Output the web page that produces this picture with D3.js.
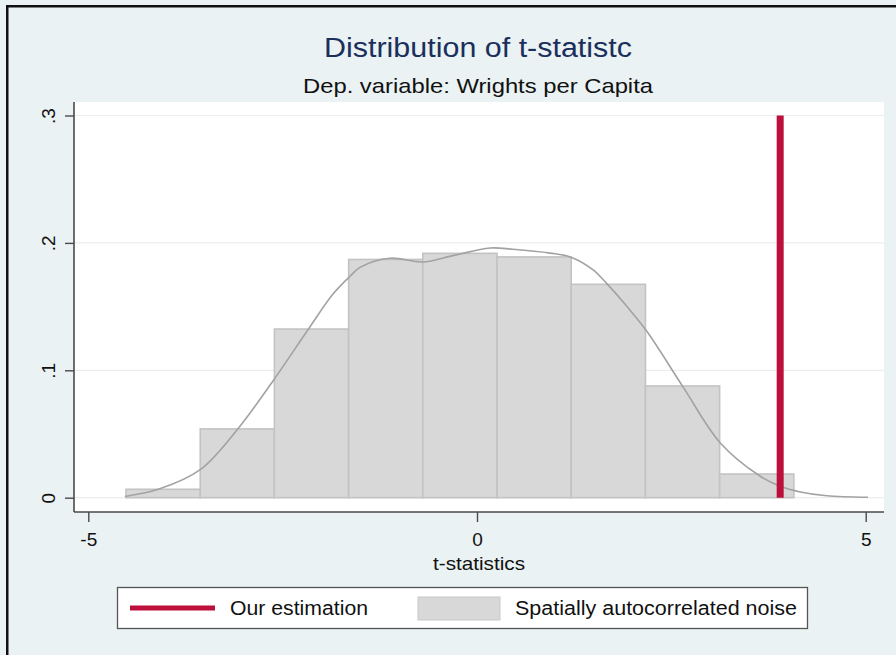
<!DOCTYPE html>
<html>
<head>
<meta charset="utf-8">
<script src="https://cdn.jsdelivr.net/npm/d3@7"></script>
<style>
  html, body { margin: 0; padding: 0; background: #eaf2f3; }
  svg { display: block; font-family: "Liberation Sans", Arial, Helvetica, sans-serif; }
</style>
</head>
<body>
<svg id="chart" width="896" height="655"></svg>
<script>
// Histogram of simulated t-statistics (density scale)
const binEdges = [-4.515, -3.56, -2.606, -1.651, -0.697, 0.258, 1.212, 2.167, 3.121, 4.076];
const binDensity = [0.0066, 0.054, 0.1324, 0.187, 0.1918, 0.189, 0.1675, 0.0877, 0.0186];

// Kernel density estimate of the same draws
const kdeX = [-4.53, -4.08, -3.56, -3.09, -2.62, -2.15, -1.85, -1.63, -1.50, -1.12, -0.70, -0.31,
              0.17, 0.46, 0.94, 1.20, 1.49, 1.67, 1.93, 2.18, 2.65, 3.13, 3.64, 3.90, 4.16, 4.50, 5.03];
const kdeY = [0.001, 0.007, 0.022, 0.053, 0.092, 0.134, 0.160, 0.174, 0.181, 0.188, 0.185, 0.190,
              0.196, 0.195, 0.192, 0.189, 0.179, 0.168, 0.150, 0.131, 0.087, 0.043, 0.017, 0.009, 0.0045, 0.0015, 0.0003];

// Observed estimate
const estimate = 3.9;

const xTicks = [-5, 0, 5];
const xTickLabels = ["-5", "0", "5"];
const yTicks = [0, 0.1, 0.2, 0.3];
const yTickLabels = ["0", ".1", ".2", ".3"];

const titleText = "Distribution of t-statistc";
const subtitleText = "Dep. variable: Wrights per Capita";
const xTitle = "t-statistics";
const legendLabels = ["Our estimation", "Spatially autocorrelated noise"];

const svg = d3.select("#chart");

// graph region background and frame
svg.append("rect").attr("width", 896).attr("height", 655).attr("fill", "#eaf2f3");
svg.append("rect")
  .attr("x", 7.25).attr("y", 6.25).attr("width", 940).attr("height", 700)
  .attr("fill", "none").attr("stroke", "#111").attr("stroke-width", 2.5);

// plot region
const region = { left: 74, right: 884, top: 102, bottom: 512 };
svg.append("rect")
  .attr("x", region.left).attr("y", region.top)
  .attr("width", region.right - region.left).attr("height", region.bottom - region.top)
  .attr("fill", "#ffffff");

const x = d3.scaleLinear().domain([-5, 5]).range([88.3, 865.7]);
const y = d3.scaleLinear().domain([0, 0.3]).range([497.7, 115.5]);

// gridlines
svg.append("g").selectAll("line").data(yTicks).join("line")
  .attr("x1", region.left).attr("x2", region.right)
  .attr("y1", d => y(d)).attr("y2", d => y(d))
  .attr("stroke", "#ebeeee").attr("stroke-width", 1.2);

// histogram bars
const bins = binDensity.map((v, i) => ({ x0: binEdges[i], x1: binEdges[i + 1], v }));
svg.append("g").selectAll("rect").data(bins).join("rect")
  .attr("x", d => x(d.x0)).attr("width", d => x(d.x1) - x(d.x0))
  .attr("y", d => y(d.v)).attr("height", d => y(0) - y(d.v))
  .attr("fill", "#d8d8d8").attr("stroke", "#c3c3c3").attr("stroke-width", 1.6);

// density curve
const kde = kdeX.map((v, i) => [v, kdeY[i]]);
svg.append("path").datum(kde)
  .attr("d", d3.line().x(d => x(d[0])).y(d => y(d[1])).curve(d3.curveCatmullRom.alpha(0.5)))
  .attr("fill", "none").attr("stroke", "#a2a2a2").attr("stroke-width", 1.6);

// estimate line
svg.append("line")
  .attr("x1", x(estimate)).attr("x2", x(estimate))
  .attr("y1", y(0)).attr("y2", y(0.3))
  .attr("stroke", "#bc0f3b").attr("stroke-width", 7);

// axes
const yAxis = d3.axisLeft(y).tickValues(yTicks).tickFormat((d, i) => yTickLabels[i])
  .tickSize(9).tickPadding(8);
const gy = svg.append("g").attr("transform", `translate(${region.left},0)`).call(yAxis);
gy.select(".domain").attr("d", `M0,${region.top}V${region.bottom}`);
const xAxis = d3.axisBottom(x).tickValues(xTicks).tickFormat((d, i) => xTickLabels[i])
  .tickSize(10).tickPadding(6);
const gx = svg.append("g").attr("transform", `translate(0,${region.bottom})`).call(xAxis);
gx.select(".domain").attr("d", `M${region.left},0H${region.right}`);

[gx, gy].forEach(g => {
  g.select(".domain").attr("stroke", "#4a4a4a").attr("stroke-width", 1.6);
  g.selectAll(".tick line").attr("stroke", "#4a4a4a").attr("stroke-width", 1.4);
  g.selectAll(".tick text").attr("fill", "#111").attr("font-size", 19)
    .attr("font-family", "Liberation Sans, Arial, sans-serif");
});
gx.selectAll(".tick text").attr("dy", "0.95em");
gy.selectAll(".tick text")
  .attr("text-anchor", "middle").attr("dy", 0).attr("x", null)
  .attr("transform", "translate(-26,0) rotate(-90)")
  .attr("dominant-baseline", "central");

// text helper: text stretched horizontally to a set width
function label(parent, px, py, size, fill, str, width, anchor) {
  return parent.append("text").attr("x", px).attr("y", py)
    .attr("text-anchor", anchor || "start")
    .attr("font-size", size).attr("fill", fill)
    .attr("textLength", width).attr("lengthAdjust", "spacingAndGlyphs")
    .text(str);
}

// titles
label(svg, 478, 57, 27, "#1b2f5c", titleText, 308, "middle");
label(svg, 478, 93, 21, "#111", subtitleText, 350, "middle");
label(svg, 479, 570, 19, "#111", xTitle, 92, "middle");

// legend
const lg = svg.append("g");
lg.append("rect").attr("x", 117.5).attr("y", 587.5).attr("width", 690).attr("height", 41)
  .attr("fill", "#fff").attr("stroke", "#555").attr("stroke-width", 1.3);
lg.append("line").attr("x1", 130).attr("x2", 215).attr("y1", 608).attr("y2", 608)
  .attr("stroke", "#bc0f3b").attr("stroke-width", 5);
label(lg, 230, 615, 20, "#111", legendLabels[0], 138);
lg.append("rect").attr("x", 418).attr("y", 597).attr("width", 82).attr("height", 23)
  .attr("fill", "#d8d8d8").attr("stroke", "#c8c8c8").attr("stroke-width", 1);
label(lg, 515, 615, 20, "#111", legendLabels[1], 282);
</script>
</body>
</html>
